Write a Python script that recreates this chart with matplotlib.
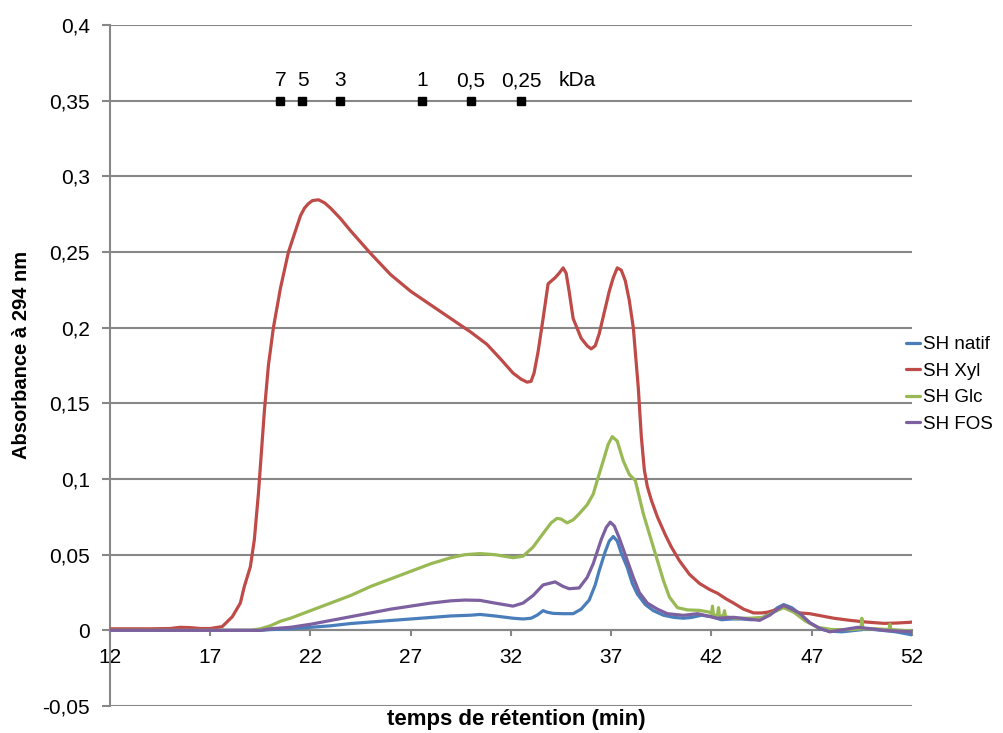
import matplotlib
matplotlib.use("Agg")
import matplotlib.pyplot as plt

plt.rcParams['font.family'] = ['Liberation Sans', 'DejaVu Sans']

# ---- data ----
natif_x = [12, 19.5, 20, 21, 22, 23, 24, 25, 26, 27, 28, 29, 30, 30.45, 31.2, 32.1, 32.6, 33.0, 33.3, 33.6,
           33.8, 34.1, 34.6, 35.1, 35.5, 35.9, 36.2, 36.4, 36.7, 36.9, 37.1, 37.3, 37.5, 37.8, 38.05, 38.3,
           38.7, 39.1, 39.6, 40.1, 40.6, 41.0, 41.5, 42.0, 42.5, 43.0, 43.5, 44.0, 44.5, 45.0, 45.3, 45.6,
           46.0, 46.4, 46.9, 47.4, 47.9, 48.5, 49.2, 49.8, 50.5, 51.2, 52]
natif_y = [0, 0, 0.0005, 0.001, 0.002, 0.003, 0.0045, 0.0055, 0.0065, 0.0075, 0.0085, 0.0095, 0.010, 0.0105,
           0.0095, 0.008, 0.0075, 0.008, 0.010, 0.013, 0.012, 0.0112, 0.011, 0.011, 0.014, 0.020, 0.030,
           0.0395, 0.052, 0.059, 0.062, 0.059, 0.051, 0.0415, 0.031, 0.024, 0.017, 0.013, 0.010, 0.0086,
           0.008, 0.0085, 0.010, 0.009, 0.007, 0.0075, 0.0075, 0.007, 0.008, 0.012, 0.015, 0.017, 0.015,
           0.011, 0.005, 0.001, -0.0005, -0.001, 0.0, 0.001, 0.0, -0.001, -0.003]

xyl_x = [12, 13, 14, 15, 15.5, 16, 16.5, 17, 17.6, 18.1, 18.5, 18.7, 19.0, 19.2, 19.4, 19.7, 19.9, 20.15,
         20.5, 20.9, 21.1, 21.3, 21.5, 21.7, 21.9, 22.1, 22.4, 22.7, 23.0, 23.5, 24.0, 25, 26, 27, 28, 29,
         30, 30.8, 31.5, 32.1, 32.5, 32.8, 33.0, 33.15, 33.35, 33.6, 33.85, 34.2, 34.4, 34.6, 34.75, 34.9,
         35.1, 35.5, 35.8, 36.0, 36.2, 36.4, 36.9, 37.1, 37.3, 37.5, 37.7, 37.9, 38.1, 38.35, 38.5, 38.65,
         38.8, 39.0, 39.3, 39.7, 40.0, 40.4, 40.9, 41.4, 41.9, 42.3, 42.7, 43.1, 43.6, 44.1, 44.5, 44.8,
         45.2, 45.6, 46.0, 46.4, 46.9, 47.3, 48.1, 48.9, 49.7, 50.6, 51.2, 51.9, 52]
xyl_y = [0.001, 0.001, 0.001, 0.0012, 0.002, 0.0018, 0.0012, 0.0012, 0.0025, 0.009, 0.018, 0.029, 0.042,
         0.060, 0.090, 0.145, 0.175, 0.200, 0.226, 0.250, 0.258, 0.266, 0.274, 0.279, 0.282, 0.284, 0.2845,
         0.2825, 0.279, 0.272, 0.264, 0.249, 0.235, 0.224, 0.215, 0.206, 0.197, 0.189, 0.179, 0.170, 0.166,
         0.164, 0.1645, 0.170, 0.184, 0.206, 0.229, 0.233, 0.236, 0.2395, 0.236, 0.224, 0.206, 0.193,
         0.188, 0.186, 0.188, 0.196, 0.224, 0.233, 0.2395, 0.238, 0.231, 0.218, 0.200, 0.160, 0.128, 0.106,
         0.095, 0.086, 0.075, 0.063, 0.055, 0.046, 0.037, 0.031, 0.027, 0.0245, 0.021, 0.018, 0.014,
         0.0115, 0.0115, 0.012, 0.0135, 0.0152, 0.013, 0.0115, 0.011, 0.010, 0.008, 0.0066, 0.0055,
         0.0046, 0.0048, 0.0053, 0.0055]

glc_x = [12, 19, 19.5, 20, 20.5, 21, 22, 23, 24, 25, 26, 27, 28, 29, 29.7, 30.45, 31.2, 32.1, 32.6, 33.1,
         33.6, 34.0, 34.3, 34.5, 34.8, 35.1, 35.4, 35.8, 36.1, 36.3, 36.6, 36.85, 37.05, 37.3, 37.6, 37.9,
         38.2, 38.6, 39.1, 39.6, 39.9, 40.3, 40.8, 41.4, 41.9, 42.0, 42.05, 42.1, 42.3, 42.35, 42.4, 42.6,
         42.65, 42.7, 43.2, 43.9, 44.6, 45.1, 45.6, 46.1, 46.7, 47.3, 48, 49, 49.45, 49.5, 49.55, 50.2,
         50.85, 50.9, 50.95, 51.5, 52]
glc_y = [0, 0, 0.001, 0.003, 0.006, 0.008, 0.013, 0.018, 0.023, 0.029, 0.034, 0.039, 0.044, 0.048, 0.050,
         0.0507, 0.050, 0.048, 0.049, 0.055, 0.064, 0.071, 0.074, 0.0735, 0.071, 0.073, 0.077, 0.083,
         0.090, 0.099, 0.112, 0.123, 0.128, 0.125, 0.112, 0.103, 0.099, 0.077, 0.055, 0.033, 0.022, 0.015,
         0.0135, 0.0132, 0.012, 0.011, 0.016, 0.010, 0.010, 0.015, 0.009, 0.010, 0.013, 0.009, 0.008,
         0.008, 0.0086, 0.012, 0.015, 0.012, 0.006, 0.002, 0.0005, 0.0005, 0.001, 0.008, 0.001, 0.001,
         0.0005, 0.004, 0.0005, 0.0, -0.0005]

fos_x = [12, 19.5, 20, 21, 22, 23, 24, 25, 26, 27, 28, 29, 29.7, 30.45, 31.2, 32.1, 32.6, 33.1, 33.6, 34.2,
         34.6, 34.9, 35.4, 35.8, 36.1, 36.5, 36.75, 36.95, 37.15, 37.4, 37.75, 38.1, 38.4, 38.8, 39.3, 39.8,
         40.6, 41.3, 41.8, 42.3, 43.1, 43.8, 44.4, 44.9, 45.3, 45.6, 46.0, 46.4, 46.9, 47.4, 47.9, 48.6,
         49.3, 50.0, 50.6, 51.3, 52]
fos_y = [0, 0, 0.001, 0.002, 0.004, 0.0065, 0.009, 0.0115, 0.014, 0.016, 0.018, 0.0195, 0.020, 0.0198,
         0.018, 0.016, 0.018, 0.023, 0.030, 0.032, 0.029, 0.0275, 0.028, 0.035, 0.044, 0.060, 0.068,
         0.0715, 0.069, 0.061, 0.048, 0.035, 0.025, 0.018, 0.014, 0.011, 0.0099, 0.011, 0.0095, 0.008,
         0.0086, 0.0075, 0.0066, 0.010, 0.014, 0.0165, 0.014, 0.0112, 0.005, 0.0013, -0.001, 0.0005,
         0.002, 0.001, 0.0, -0.0005, -0.001]

series_names = ['SH natif', 'SH Xyl', 'SH Glc', 'SH FOS']
series_colors = ['#4A7EBB', '#BE4B48', '#98B954', '#7D60A0']

kda_x = [20.5, 21.6, 23.45, 27.55, 30.0, 32.5]
kda_labels = ['7', '5', '3', '1', '0,5', '0,25']
kda_level = 0.35

xticks = [12, 17, 22, 27, 32, 37, 42, 47, 52]
yticks = [-0.05, 0, 0.05, 0.1, 0.15, 0.2, 0.25, 0.3, 0.35, 0.4]
ytick_labels = ['-0,05', '0', '0,05', '0,1', '0,15', '0,2', '0,25', '0,3', '0,35', '0,4']

# ---- figure ----
fig = plt.figure(figsize=(10.04, 7.33), dpi=100)
ax = fig.add_axes([110 / 1004, 1 - 706 / 733, (912 - 110) / 1004, (706 - 25) / 733])
gray = '#878787'

for yv in yticks:
    ax.axhline(yv, color=gray, lw=1.5, zorder=1)

xs = [natif_x, xyl_x, glc_x, fos_x]
ys = [natif_y, xyl_y, glc_y, fos_y]
handles = []
for x, y, name, col in zip(xs, ys, series_names, series_colors):
    h, = ax.plot(x, y, color=col, lw=2.3, label=name, zorder=3,
                 solid_joinstyle='round', solid_capstyle='round')
    handles.append(h)

ax.plot(kda_x, [kda_level] * len(kda_x), 's', color='black', ms=5.5, ls='none', zorder=4)
for xv, lab in zip(kda_x, kda_labels):
    ax.text(xv, 0.3632, lab, ha='center', va='center', fontsize=15)
ax.text(35.32, 0.3632, 'kDa', ha='center', va='center', fontsize=15)

ax.set_xlim(12, 52)
ax.set_ylim(-0.05, 0.4)
ax.set_xticks(xticks)
ax.set_xticklabels([str(t) for t in xticks])
ax.set_yticks(yticks)
ax.set_yticklabels(ytick_labels)

for s in ['top', 'right']:
    ax.spines[s].set_visible(False)
ax.spines['bottom'].set_position(('data', 0))
ax.spines['bottom'].set_color(gray)
ax.spines['bottom'].set_linewidth(1.5)
ax.spines['left'].set_color(gray)
ax.spines['left'].set_linewidth(1.5)
ax.spines['bottom'].set_zorder(2)

ax.tick_params(axis='x', direction='out', length=4.5, width=1.5, color=gray, labelsize=15, pad=8)
ax.tick_params(axis='y', direction='out', length=5.5, width=1.5, color=gray, labelsize=15, pad=9)

fig.text(22 / 1004, 1 - 355 / 733, 'Absorbance à 294 nm', rotation=90, ha='center', va='center',
         fontsize=14.5, fontweight='bold')
fig.text(516 / 1004, 1 - 720 / 733, 'temps de rétention (min)', ha='center', va='center',
         fontsize=16, fontweight='bold')

fig.legend(handles=handles, labels=series_names, loc='center left',
           bbox_to_anchor=(906 / 1004, 1 - 384.5 / 733), bbox_transform=fig.transFigure,
           frameon=False, fontsize=13.5, handlelength=0.75, handletextpad=0.15,
           labelspacing=0.5, borderpad=0, borderaxespad=0)

fig.savefig('out.png', dpi=100)
